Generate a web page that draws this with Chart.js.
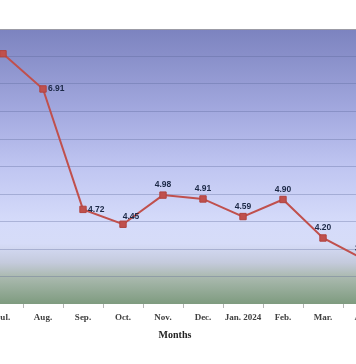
<!DOCTYPE html>
<html><head><meta charset="utf-8">
<script src="https://cdn.jsdelivr.net/npm/chart.js@4"></script>
<style>
html,body{margin:0;padding:0;background:#fff;overflow:hidden;width:356px;height:364px}
#wrap{position:absolute;left:-40px;top:0;width:440px;height:364px}
</style></head>
<body><div id="wrap"><canvas id="c" width="440" height="364"></canvas></div>
<script>
const categories = ['Jul.','Aug.','Sep.','Oct.','Nov.','Dec.','Jan. 2024','Feb.','Mar.','Apr.'];
const values = [7.55, 6.91, 4.72, 4.45, 4.98, 4.91, 4.59, 4.90, 4.20, 3.82];
const yTicks = [3, 3.5, 4, 4.5, 5, 5.5, 6, 6.5, 7, 7.5, 8];
const xTitle = 'Months';
const labelPlacement = ['left','right','right','aboveRight','above','above','above','above','above','above'];

const bgPlugin = {
  id: 'bg',
  beforeDraw(chart) {
    const {ctx, chartArea: a} = chart;
    const g = ctx.createLinearGradient(0, a.top, 0, a.bottom);
    g.addColorStop(0, '#7c83bf');
    g.addColorStop(0.3, '#a3a9df');
    g.addColorStop(0.5, '#bfc5f1');
    g.addColorStop(0.7, '#d5dbfa');
    g.addColorStop(0.78, '#d6dcf8');
    g.addColorStop(0.85, '#c4cadc');
    g.addColorStop(0.9, '#abbab0');
    g.addColorStop(1, '#7e9b7f');
    ctx.save();
    ctx.fillStyle = g;
    ctx.fillRect(a.left, a.top, a.right - a.left, a.bottom - a.top);
    ctx.restore();
  }
};

const labelPlugin = {
  id: 'vlabels',
  afterDatasetsDraw(chart) {
    const {ctx} = chart;
    const meta = chart.getDatasetMeta(0);
    ctx.save();
    ctx.font = 'bold 8.5px "Liberation Sans", Arial, sans-serif';
    ctx.fillStyle = '#1b2846';
    ctx.textBaseline = 'middle';
    meta.data.forEach((pt, i) => {
      const t = values[i].toFixed(2);
      const p = labelPlacement[i];
      if (p === 'right') { ctx.textAlign = 'left'; ctx.fillText(t, pt.x + 5, pt.y); }
      else if (p === 'left') { ctx.textAlign = 'right'; ctx.fillText(t, pt.x - 6, pt.y); }
      else if (p === 'aboveRight') { ctx.textAlign = 'center'; ctx.fillText(t, pt.x + 8, pt.y - 8); }
      else { ctx.textAlign = 'center'; ctx.fillText(t, pt.x, pt.y - 10); }
    });
    const xs = chart.scales.x;
    ctx.font = 'bold 10px "Liberation Serif", "Times New Roman", serif';
    ctx.fillStyle = '#222';
    ctx.textAlign = 'center';
    ctx.fillText(xTitle, (xs.left + xs.right) / 2 - 8, 335);
    ctx.restore();
  }
};

new Chart(document.getElementById('c'), {
  type: 'line',
  data: {
    labels: categories,
    datasets: [{
      data: values,
      borderColor: '#c0504d',
      backgroundColor: '#c0504d',
      borderWidth: 2,
      pointStyle: 'rect',
      pointRadius: 4.5,
      pointBorderColor: '#b04440',
      pointBackgroundColor: '#c0504d',
      pointBorderWidth: 1,
      tension: 0,
      fill: false
    }]
  },
  options: {
    responsive: false,
    animation: false,
    layout: { padding: { left: 23, right: 17, top: 29, bottom: 0 } },
    plugins: { legend: { display: false }, tooltip: { enabled: false } },
    scales: {
      x: {
        offset: true,
        grid: { offset: true, drawOnChartArea: false, tickLength: 4, color: '#b4b4b4' },
        border: { display: false },
        ticks: {
          padding: 4,
          color: '#404040',
          font: { family: '"Liberation Serif", "Times New Roman", serif', size: 9, weight: 'bold' },
          maxRotation: 0, autoSkip: false
        },
        afterFit(s) { s.height = 60; }
      },
      y: {
        min: 3, max: 8,
        afterBuildTicks(s) { s.ticks = yTicks.map(v => ({ value: v })); },
        ticks: { display: false },
        border: { display: false },
        grid: {
          drawTicks: false,
          color(ctx) {
            const v = ctx.tick && ctx.tick.value;
            if (v === 3) return 'rgba(0,0,0,0)';
            if (v === 8) return '#9b9ba6';
            return 'rgba(85,95,145,0.32)';
          },
          lineWidth: 1
        },
        afterFit(s) { s.width = 0; }
      }
    }
  },
  plugins: [bgPlugin, labelPlugin]
});
</script>
</body></html>
